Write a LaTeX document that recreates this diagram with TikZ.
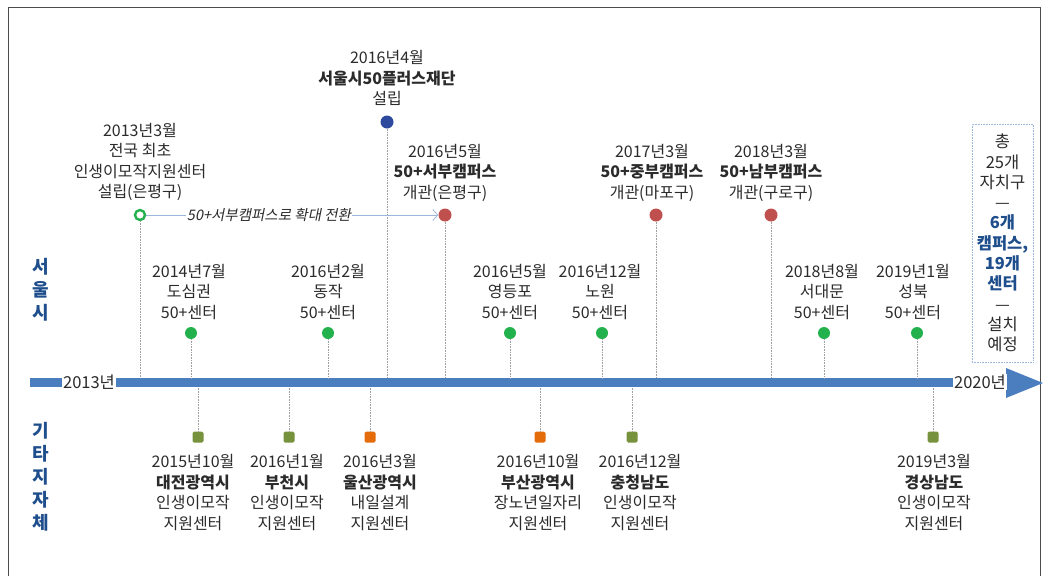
\documentclass[tikz,border=0pt]{standalone}
\usepackage{fontspec}
\setmainfont{Noto Sans CJK KR}
\newfontfamily\slantfont{Noto Sans CJK KR}[FakeSlant=0.2]
\usetikzlibrary{arrows.meta}

\definecolor{axisblue}{HTML}{4A7EBF}
\definecolor{dotgreen}{HTML}{22B14C}
\definecolor{dotred}{HTML}{C0504D}
\definecolor{dotblue}{HTML}{2E4A9E}
\definecolor{sqolive}{HTML}{76923C}
\definecolor{sqorange}{HTML}{E46C0A}
\definecolor{sideblue}{HTML}{1F4E8C}
\definecolor{bodytext}{HTML}{2B2B2B}
\definecolor{pale}{HTML}{9DB7DC}

\tikzset{
  evt/.style={align=center, inner sep=0pt, text=bodytext, font=\fontsize{16}{20.5}\selectfont},
  side/.style={align=center, inner sep=0pt, text=sideblue, font=\fontsize{18}{23}\selectfont\bfseries},
  seoul/.style={circle, fill=dotgreen, minimum size=12pt, inner sep=0pt},
  campus/.style={circle, fill=dotred, minimum size=13pt, inner sep=0pt},
  olive/.style={rectangle, rounded corners=1.5pt, fill=sqolive, minimum size=11pt, inner sep=0pt},
  orange/.style={olive, fill=sqorange},
  stem/.style={gray!75, densely dotted, line width=0.6pt},
  year/.style={fill=white, inner sep=1pt, text=bodytext, font=\fontsize{16.5}{18}\selectfont}
}

\begin{document}
\begin{tikzpicture}[x=1pt, y=-1pt]
\useasboundingbox (0,0) rectangle (1049,576);
\draw[gray!60!black, line width=1pt] (8,576) -- (8,7) -- (1040,7) -- (1040,576);

% timeline
\coordinate (top) at (0,378);
\coordinate (bot) at (0,387);
\draw[axisblue, line width=9pt] (30,382.5) -- (1008,382.5);
\fill[axisblue] (1006,368) -- (1043,383) -- (1006,398) -- cycle;
\node[year] (y2013) at (89,382) {2013년};
\node[year] (y2020) at (980,382) {2020년};

% side labels
\node[side] (seoullbl) at (41,290) {서\\울\\시};
\node[side] (otherlbl) at (41,477) {기\\타\\지\\자\\체};

% Seoul 50+ centres
\foreach \x/\lx/\t in {191/189/{2014년7월\\도심권\\50+센터},
    328/328/{2016년2월\\동작\\50+센터},
    510/510/{2016년5월\\영등포\\50+센터},
    602/600/{2016년12월\\노원\\50+센터},
    824/822/{2018년8월\\서대문\\50+센터},
    917/913/{2019년1월\\성북\\50+센터}}{
  \node[seoul] (c\x) at (\x,333) {};
  \node[evt] (lc\x) at (\lx,292) {\t};
  \draw[stem] (c\x) -- (c\x |- top);
}

% campuses
\foreach \x/\lx/\t in {445/445/{2016년5월\\\textbf{50+서부캠퍼스}\\개관(은평구)},
    656/652/{2017년3월\\\textbf{50+중부캠퍼스}\\개관(마포구)},
    771/771/{2018년3월\\\textbf{50+남부캠퍼스}\\개관(구로구)}}{
  \node[campus] (p\x) at (\x,215) {};
  \node[evt] (lp\x) at (\lx,172.5) {\t};
  \draw[stem] (p\x) -- (p\x |- top);
}

% first centre and foundation
\node[circle, draw=dotgreen, line width=2.4pt, fill=white, minimum size=10pt, inner sep=0pt] (first) at (140,215) {};
\node[evt] (lfirst) at (140,162) {2013년3월\\전국 최초\\인생이모작지원센터\\설립(은평구)};
\draw[stem] (first) -- (first |- top);
\node[circle, fill=dotblue, minimum size=13pt, inner sep=0pt] (found) at (387,122) {};
\node[evt] (lfound) at (387,78) {2016년4월\\\textbf{서울시50플러스재단}\\설립};
\draw[stem] (found) -- (found |- top);

\draw[pale, line width=0.8pt, -{Straight Barb[length=5pt, width=11pt]}] (first) -- (p445);
\node[fill=white, inner sep=1pt, text=bodytext, font=\fontsize{14.5}{16}\slantfont] (grow) at (269,215) {50+서부캠퍼스로 확대 전환};

% other local governments
\foreach \x/\lx/\s/\t in {198/193/olive/{2015년10월\\\textbf{대전광역시}\\인생이모작\\지원센터},
    289/287/olive/{2016년1월\\\textbf{부천시}\\인생이모작\\지원센터},
    370/380/orange/{2016년3월\\\textbf{울산광역시}\\내일설계\\지원센터},
    540/538/orange/{2016년10월\\\textbf{부산광역시}\\장노년일자리\\지원센터},
    632/640/olive/{2016년12월\\\textbf{충청남도}\\인생이모작\\지원센터},
    933/934/olive/{2019년3월\\\textbf{경상남도}\\인생이모작\\지원센터}}{
  \node[\s] (g\x) at (\x,437) {};
  \node[evt] (lg\x) at (\lx,492.5) {\t};
  \draw[stem] (g\x) -- (g\x |- bot);
}

% total
\node[draw=pale, densely dotted, line width=0.6pt, minimum width=61pt, minimum height=238pt, inner sep=0pt] (total) at (1002.5,243) {};
\node[evt, font=\fontsize{16.5}{20.3}\selectfont] (ltotal) at (total.center)
  {총\\25개\\자치구\\—\\\textcolor{sideblue}{\textbf{6개}}\\\textcolor{sideblue}{\textbf{캠퍼스,}}\\\textcolor{sideblue}{\textbf{19개}}\\\textcolor{sideblue}{\textbf{센터}}\\—\\설치\\예정};
\end{tikzpicture}
\end{document}
